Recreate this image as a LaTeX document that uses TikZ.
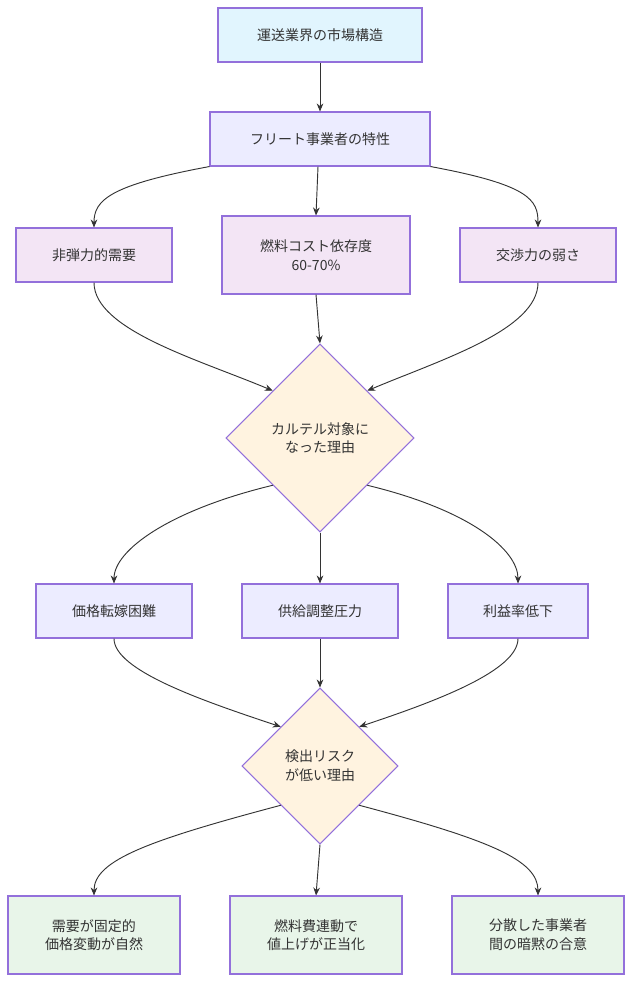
\documentclass[tikz,border=0pt]{standalone}
\usepackage{fontspec}
\setmainfont{Noto Sans CJK JP}
\usetikzlibrary{shapes.geometric,arrows.meta}
\definecolor{bd}{HTML}{9370DB}
\definecolor{cblue}{HTML}{E1F5FE}
\definecolor{cproc}{HTML}{ECECFF}
\definecolor{cpur}{HTML}{F3E5F5}
\definecolor{cora}{HTML}{FFF3E0}
\definecolor{cgrn}{HTML}{E8F5E9}
\definecolor{tx}{HTML}{333333}
\begin{document}
\begin{tikzpicture}[x=0.75pt,y=-0.75pt,
  box/.style={draw=bd,line width=0.8pt,text=tx,font=\fontsize{10.5}{14}\selectfont,align=center,inner sep=0pt},
  dia/.style={box,diamond,fill=cora,minimum width=#1*0.75pt,minimum height=#1*0.75pt,aspect=1},
  ar/.style={draw=tx,line width=0.7pt,-{Stealth[length=6pt,width=5pt]}}]
\useasboundingbox (0,0) rectangle (632,982);
\newcommand{\bx}[7]{\node[box,fill=#6,minimum width=#4*0.75pt,minimum height=#5*0.75pt] (#1) at (#2,#3) {#7};}
\bx{a}{320}{35}{204}{54}{cblue}{運送業界の市場構造}
\bx{f}{320}{139}{220}{54}{cproc}{フリート事業者の特性}
\bx{n1}{94}{255}{156}{54}{cpur}{非弾力的需要}
\bx{n2}{316}{255}{188}{78}{cpur}{燃料コスト依存度\\60-70\%}
\bx{n3}{538}{255}{156}{54}{cpur}{交渉力の弱さ}
\node[dia=188] (d1) at (320,438) {カルテル対象に\\なった理由};
\bx{m1}{114}{611}{156}{54}{cproc}{価格転嫁困難}
\bx{m2}{320}{611}{156}{54}{cproc}{供給調整圧力}
\bx{m3}{518}{611}{140}{54}{cproc}{利益率低下}
\node[dia=156] (d2) at (320,766) {検出リスク\\が低い理由};
\bx{b1}{94}{935}{172}{78}{cgrn}{需要が固定的\\価格変動が自然}
\bx{b2}{316}{935}{172}{78}{cgrn}{燃料費連動で\\値上げが正当化}
\bx{b3}{538}{935}{172}{78}{cgrn}{分散した事業者\\間の暗黙の合意}
\draw[ar] (a) -- (f);
\draw[ar] (f.south west) .. controls (110,185) and (94,200) .. (n1.north);
\draw[ar] (f.south) ++(-2,0) -- (n2.north);
\draw[ar] (f.south east) .. controls (530,185) and (538,200) .. (n3.north);
\draw[ar] (n1.south) .. controls (94,330) and (200,360) .. (d1.north west);
\draw[ar] (n2.south) -- (d1.north);
\draw[ar] (n3.south) .. controls (538,330) and (440,360) .. (d1.north east);
\draw[ar] (d1.south west) .. controls (170,510) and (114,550) .. (m1.north);
\draw[ar] (d1.south) -- (m2.north);
\draw[ar] (d1.south east) .. controls (470,510) and (518,550) .. (m3.north);
\draw[ar] (m1.south) .. controls (114,670) and (200,700) .. (d2.north west);
\draw[ar] (m2.south) -- (d2.north);
\draw[ar] (m3.south) .. controls (518,670) and (440,700) .. (d2.north east);
\draw[ar] (d2.south west) .. controls (150,840) and (94,860) .. (b1.north);
\draw[ar] (d2.south) -- (b2.north);
\draw[ar] (d2.south east) .. controls (490,840) and (538,860) .. (b3.north);
\end{tikzpicture}
\end{document}
